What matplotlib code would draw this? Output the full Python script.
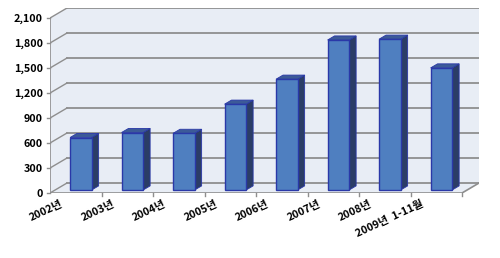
import matplotlib
matplotlib.use("Agg")
import matplotlib.pyplot as plt
from matplotlib.patches import Polygon

plt.rcParams['font.family'] = ['Noto Sans CJK KR', 'DejaVu Sans']

categories = ["2002년", "2003년", "2004년", "2005년", "2006년", "2007년", "2008년", "2009년  1-11월"]
values = [630, 690, 680, 1030, 1330, 1800, 1810, 1465]
yticks = [0, 300, 600, 900, 1200, 1500, 1800, 2100]
ytick_labels = ["0", "300", "600", "900", "1,200", "1,500", "1,800", "2,100"]

fig = plt.figure(figsize=(5, 2.58), dpi=100)
ax = fig.add_axes([0.1, 0.2519, 0.858, 0.717])

n = len(categories)
DX, DY = 0.33, 120
ymax = yticks[-1]
ax.set_xlim(0, n + DX)
ax.set_ylim(0, ymax + DY)

wall = '#E8EDF5'
edge = '#8E8E8E'
# back wall
ax.add_patch(Polygon([(DX, DY), (n + DX, DY), (n + DX, ymax + DY), (DX, ymax + DY)],
                     closed=True, fc=wall, ec='none', zorder=1))
# left wall
ax.add_patch(Polygon([(0, 0), (DX, DY), (DX, ymax + DY), (0, ymax)],
                     closed=True, fc=wall, ec='none', zorder=1))
# floor
ax.add_patch(Polygon([(0, 0), (n, 0), (n + DX, DY), (DX, DY)],
                     closed=True, fc=wall, ec='none', zorder=1))
for t in yticks:
    ax.plot([DX, n + DX], [t + DY, t + DY], color=edge, lw=1.3, zorder=2)
    ax.plot([0, DX], [t, t + DY], color=edge, lw=1.0, zorder=2)
ax.plot([0, 0], [0, ymax], color=edge, lw=1.2, zorder=2)
ax.plot([0, n, n + DX], [0, 0, DY], color=edge, lw=1.2, zorder=2)
for i in range(1, n + 1):
    ax.plot([i, i], [0, -40], color=edge, lw=1.0, zorder=2, clip_on=False)
for t in yticks:
    ax.plot([0, -0.06], [t, t], color=edge, lw=1.0, zorder=2, clip_on=False)

# bars
a, b = 0.30, 0.71
hw = 0.21
front_c = '#4F7FC0'
side_c = '#2B3D66'
top_c = '#3C5A98'
ec = '#2A38A8'
for i, v in enumerate(values):
    c = i + 0.5
    ox, oy = a * DX, a * DY
    px, py = b * DX, b * DY
    x0, x1 = c - hw + ox, c + hw + ox
    # side
    ax.add_patch(Polygon([(x1, oy), (x1 + px - ox, py), (x1 + px - ox, v + py), (x1, v + oy)],
                         closed=True, fc=side_c, ec=ec, lw=0.6, zorder=3))
    # top
    ax.add_patch(Polygon([(x0, v + oy), (x1, v + oy), (x1 + px - ox, v + py), (x0 + px - ox, v + py)],
                         closed=True, fc=top_c, ec=ec, lw=0.6, zorder=3))
    # front
    ax.add_patch(Polygon([(x0, oy), (x1, oy), (x1, v + oy), (x0, v + oy)],
                         closed=True, fc=front_c, ec=ec, lw=1.0, zorder=4))

for s in ax.spines.values():
    s.set_visible(False)
ax.set_yticks(yticks)
ax.set_yticklabels(ytick_labels, fontsize=7.8, fontweight='bold')
ax.tick_params(axis='y', length=0, pad=5)
ax.set_xticks([i + 0.2 for i in range(n)])
ax.set_xticklabels(categories, fontsize=7.8, fontweight='bold', rotation=25,
                   ha='right', va='top', rotation_mode='anchor')
ax.tick_params(axis='x', length=0, pad=4)

fig.savefig("out.png", dpi=100)
